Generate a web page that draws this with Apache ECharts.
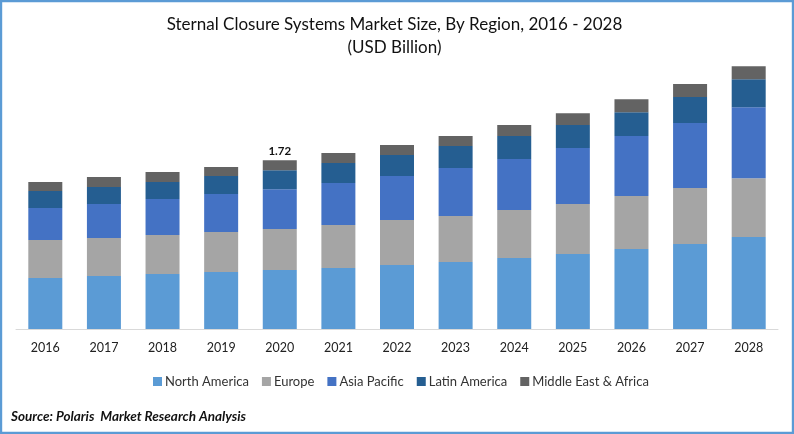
<!DOCTYPE html>
<html>
<head>
<meta charset="utf-8">
<title>Sternal Closure Systems Market Size</title>
<script src="https://cdn.jsdelivr.net/npm/echarts@6/dist/echarts.min.js"></script>
<style>
    html, body { margin: 0; padding: 0; background: #fff; }
    #main { width: 794px; height: 434px; }
</style>
</head>
<body>
<div id="main"></div>
<script>
// values (USD billion)
var years = ['2016', '2017', '2018', '2019', '2020', '2021', '2022', '2023', '2024', '2025', '2026', '2027', '2028'];
var northAmerica = [0.519, 0.539, 0.560, 0.580, 0.600, 0.621, 0.651, 0.682, 0.723, 0.763, 0.814, 0.865, 0.936];
var europe = [0.387, 0.387, 0.397, 0.407, 0.417, 0.438, 0.458, 0.468, 0.489, 0.509, 0.539, 0.570, 0.600];
var asiaPacific = [0.326, 0.346, 0.366, 0.387, 0.407, 0.427, 0.448, 0.489, 0.519, 0.570, 0.611, 0.662, 0.723];
var latinAmerica = [0.173, 0.173, 0.173, 0.183, 0.193, 0.204, 0.214, 0.224, 0.234, 0.234, 0.244, 0.265, 0.285];
var middleEast = [0.092, 0.102, 0.102, 0.092, 0.102, 0.102, 0.102, 0.102, 0.112, 0.122, 0.132, 0.132, 0.132];
var labelYear = '2020';
var labelText = '1.72';

var font = 'Lato';
var chart = echarts.init(document.getElementById('main'), null, { renderer: 'canvas' });

function makeSeries(name, values, color) {
    return {
        name: name,
        type: 'bar',
        stack: 'total',
        barWidth: 34,
        itemStyle: { color: color },
        data: values
    };
}

var series = [
    makeSeries('North America', northAmerica, '#5B9BD5'),
    makeSeries('Europe', europe, '#A5A5A5'),
    makeSeries('Asia Pacific', asiaPacific, '#4472C4'),
    makeSeries('Latin America', latinAmerica, '#255E91'),
    makeSeries('Middle East & Africa', middleEast, '#636363')
];
// only one bar carries a label
series[4].label = {
    show: true,
    position: 'top',
    distance: 3,
    fontFamily: font,
    fontSize: 11.5,
    fontWeight: 'bold',
    color: '#111',
    formatter: function (p) {
        return p.name == labelYear ? labelText : '';
    }
};

var option = {
    animation: false,
    backgroundColor: '#fff',
    title: [{
        text: 'Sternal Closure Systems Market Size, By Region, 2016 - 2028\n(USD Billion)',
        left: 389.5,
        top: 8,
        textAlign: 'center',
        textStyle: { fontFamily: font, fontSize: 17, fontWeight: 'normal', color: '#111', lineHeight: 23 }
    }, {
        text: 'Source: Polaris  Market Research Analysis',
        left: 6,
        top: 405,
        textStyle: { fontFamily: font, fontSize: 13.5, fontWeight: 'bold', fontStyle: 'italic', color: '#111' }
    }],
    legend: {
        left: 148,
        top: 370,
        icon: 'rect',
        itemWidth: 9,
        itemHeight: 9,
        itemGap: 13,
        textStyle: { fontFamily: font, fontSize: 13, color: '#333', padding: [0, 0, 0, -2] }
    },
    grid: { left: 16, right: 16, top: 54, bottom: 105 },
    xAxis: {
        type: 'category',
        data: years,
        axisTick: { show: false },
        axisLine: { lineStyle: { color: '#D9D9D9', width: 1 } },
        axisLabel: { fontFamily: font, fontSize: 12.5, color: '#222', margin: 12 }
    },
    yAxis: { type: 'value', min: 0, max: 2.8, show: false },
    series: series,
    graphic: [{
        type: 'rect',
        silent: true,
        shape: { x: 1, y: 1, width: 792, height: 432 },
        style: { fill: null, stroke: '#5B9BD5', lineWidth: 2.4 }
    }]
};

chart.setOption(option);
</script>
</body>
</html>
